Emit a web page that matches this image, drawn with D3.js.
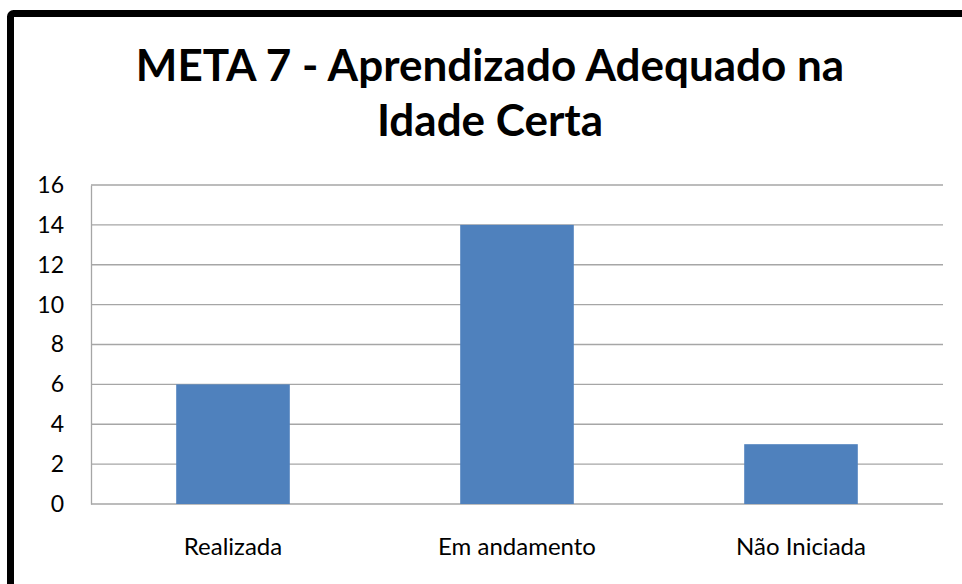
<!DOCTYPE html>
<html>
<head>
<meta charset="utf-8">
<script src="https://cdn.jsdelivr.net/npm/d3@7"></script>
<style>
  html, body { margin: 0; padding: 0; background: #fff; }
  svg { display: block; }
</style>
</head>
<body>
<svg id="chart" width="962" height="584"></svg>
<script>
const categories = ['Realizada', 'Em andamento', 'Não Iniciada'];
const values = [6, 14, 3];
const yTicks = [0, 2, 4, 6, 8, 10, 12, 14, 16];
const titleLines = ['META 7 - Aprendizado Adequado na', 'Idade Certa'];

const width = 962;
const height = 584;
const plot = { left: 91, right: 943, top: 185, bottom: 504 };

const svg = d3.select('#chart');

// outer frame (only top + left edges are visible in the crop)
svg.append('rect')
  .attr('x', 10.5)
  .attr('y', 13.5)
  .attr('width', width + 40)
  .attr('height', height + 40)
  .attr('rx', 3)
  .attr('fill', 'none')
  .attr('stroke', '#000')
  .attr('stroke-width', 7);

svg.append('g')
  .attr('class', 'title')
  .selectAll('text')
  .data(titleLines)
  .join('text')
  .attr('x', 490)
  .attr('y', (d, i) => 81 + i * 55)
  .attr('text-anchor', 'middle')
  .attr('font-family', 'Lato, "Open Sans", sans-serif')
  .attr('font-weight', 'bold')
  .attr('font-size', 44)
  .attr('fill', '#000')
  .text(d => d);

const x = d3.scaleBand()
  .domain(categories)
  .range([plot.left, plot.right])
  .paddingInner(0.6)
  .paddingOuter(0.3);

const y = d3.scaleLinear()
  .domain([0, 16])
  .range([plot.bottom, plot.top]);

// gridlines
svg.append('g')
  .attr('class', 'grid')
  .selectAll('line')
  .data(yTicks)
  .join('line')
  .attr('x1', plot.left)
  .attr('x2', plot.right)
  .attr('y1', d => y(d))
  .attr('y2', d => y(d))
  .attr('stroke', '#a6a6a6')
  .attr('stroke-width', 1.3);

// y axis
const yAxis = svg.append('g')
  .attr('transform', `translate(${plot.left},0)`)
  .call(d3.axisLeft(y).tickValues(yTicks).tickSize(0).tickPadding(27));
yAxis.select('.domain').attr('stroke', '#a6a6a6').attr('stroke-width', 1.3);
yAxis.selectAll('text')
  .attr('font-family', 'Lato, "Open Sans", sans-serif')
  .attr('font-size', 23)
  .attr('fill', '#000');

// bars
svg.append('g')
  .attr('class', 'bars')
  .selectAll('rect')
  .data(values)
  .join('rect')
  .attr('x', (d, i) => x(categories[i]))
  .attr('y', d => y(d))
  .attr('width', x.bandwidth())
  .attr('height', d => y(0) - y(d))
  .attr('fill', '#4f81bd');

// x axis labels
const xLabels = d3.scaleBand()
  .domain(categories)
  .range([plot.left, plot.right]);

const xAxis = svg.append('g')
  .attr('transform', `translate(0,${plot.bottom})`)
  .call(d3.axisBottom(xLabels).tickSize(0).tickPadding(34));
xAxis.select('.domain').remove();
xAxis.selectAll('text')
  .attr('font-family', 'Lato, "Open Sans", sans-serif')
  .attr('font-size', 24)
  .attr('fill', '#000');
</script>
</body>
</html>
